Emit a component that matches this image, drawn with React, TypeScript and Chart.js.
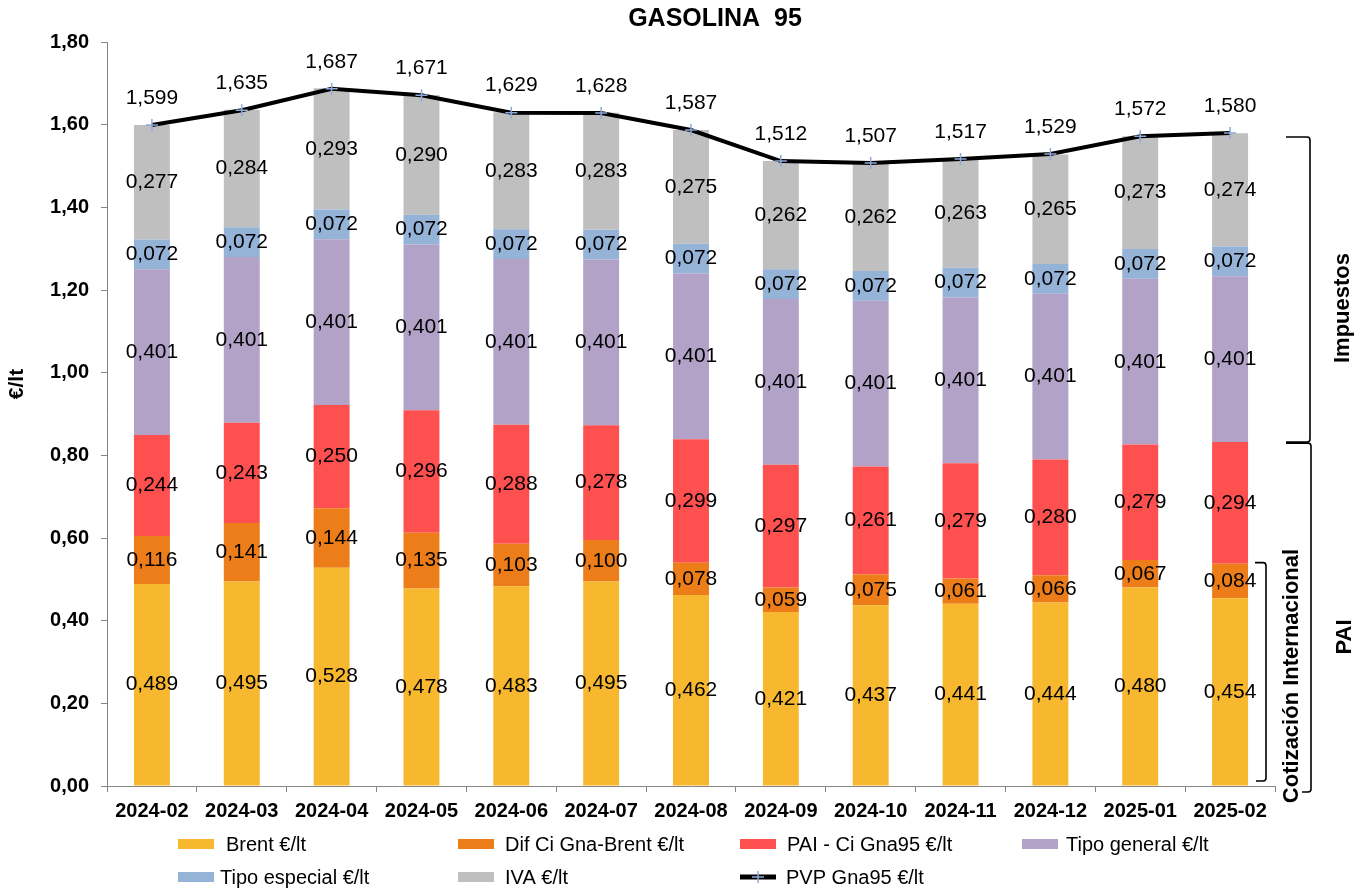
import React, { useEffect, useRef } from 'react';
import { Chart, registerables } from 'chart.js';

Chart.register(...registerables);

const FONT = '"Liberation Sans", Arial, Helvetica, sans-serif';

const categories = ['2024-02', '2024-03', '2024-04', '2024-05', '2024-06', '2024-07', '2024-08', '2024-09', '2024-10', '2024-11', '2024-12', '2025-01', '2025-02'];
const brent = [0.489, 0.495, 0.528, 0.478, 0.483, 0.495, 0.462, 0.421, 0.437, 0.441, 0.444, 0.480, 0.454];
const difCiBrent = [0.116, 0.141, 0.144, 0.135, 0.103, 0.100, 0.078, 0.059, 0.075, 0.061, 0.066, 0.067, 0.084];
const paiCi = [0.244, 0.243, 0.250, 0.296, 0.288, 0.278, 0.299, 0.297, 0.261, 0.279, 0.280, 0.279, 0.294];
const tipoGeneral = [0.401, 0.401, 0.401, 0.401, 0.401, 0.401, 0.401, 0.401, 0.401, 0.401, 0.401, 0.401, 0.401];
const tipoEspecial = [0.072, 0.072, 0.072, 0.072, 0.072, 0.072, 0.072, 0.072, 0.072, 0.072, 0.072, 0.072, 0.072];
const iva = [0.277, 0.284, 0.293, 0.290, 0.283, 0.283, 0.275, 0.262, 0.262, 0.263, 0.265, 0.273, 0.274];
const pvp = [1.599, 1.635, 1.687, 1.671, 1.629, 1.628, 1.587, 1.512, 1.507, 1.517, 1.529, 1.572, 1.580];

const yMin = 0;
const yMax = 1.8;
const yStep = 0.2;

const title = 'GASOLINA  95';
const yTitle = '€/lt';

const fmt = (v: number, d: number) => v.toFixed(d).replace('.', ',');

const valueLabels = {
  id: 'valueLabels',
  afterDatasetsDraw(chart: any) {
    const ctx = chart.ctx;
    ctx.save();
    ctx.font = `21px ${FONT}`;
    ctx.fillStyle = '#000';
    ctx.textAlign = 'center';
    ctx.textBaseline = 'middle';
    chart.data.datasets.forEach((ds: any, i: number) => {
      const meta = chart.getDatasetMeta(i);
      meta.data.forEach((el: any, j: number) => {
        const v = ds.data[j] as number;
        if (meta.type === 'bar') {
          const p = el.getProps(['x', 'y', 'base'], true);
          ctx.fillText(fmt(v, 3), p.x, (p.y + p.base) / 2);
        } else {
          ctx.fillText(fmt(v, 3), el.x, el.y - 27);
        }
      });
    });
    ctx.restore();
  },
};

const decorations = {
  id: 'decorations',
  afterDraw(chart: any) {
    const ctx = chart.ctx;
    const ys = chart.scales.y;
    ctx.save();
    // title
    ctx.fillStyle = '#000';
    ctx.textAlign = 'center';
    ctx.textBaseline = 'middle';
    ctx.font = `bold 25px ${FONT}`;
    ctx.fillText(title, 715, 19);
    // y title
    ctx.save();
    ctx.translate(17, 384);
    ctx.rotate(-Math.PI / 2);
    ctx.font = `bold 21px ${FONT}`;
    ctx.fillText(yTitle, 0, 0);
    ctx.restore();

    // braces from last bar
    const n = categories.length - 1;
    const topV = pvp[n];
    const midV = brent[n] + difCiBrent[n] + paiCi[n];
    const cotV = brent[n] + difCiBrent[n];
    const top = ys.getPixelForValue(topV) + 4;
    const mid = ys.getPixelForValue(midV);
    const cot = ys.getPixelForValue(cotV) - 1;
    const zero = ys.getPixelForValue(0);
    ctx.strokeStyle = '#000';
    ctx.lineWidth = 1.6;
    const r = 3;
    // Impuestos
    ctx.beginPath();
    ctx.moveTo(1286, top);
    ctx.lineTo(1310 - r, top);
    ctx.quadraticCurveTo(1310, top, 1310, top + r);
    ctx.lineTo(1310, mid - r);
    ctx.quadraticCurveTo(1310, mid, 1310 - r, mid);
    ctx.lineTo(1286, mid);
    ctx.stroke();
    // PAI
    ctx.beginPath();
    ctx.moveTo(1286, mid + 1);
    ctx.lineTo(1311 - r, mid + 1);
    ctx.quadraticCurveTo(1311, mid + 1, 1311, mid + 1 + r);
    ctx.lineTo(1311, zero + 6 - r);
    ctx.quadraticCurveTo(1311, zero + 6, 1311 - r, zero + 6);
    ctx.lineTo(1302, zero + 6);
    ctx.stroke();
    // Cotización
    ctx.beginPath();
    ctx.moveTo(1255, cot);
    ctx.lineTo(1266 - r, cot);
    ctx.quadraticCurveTo(1266, cot, 1266, cot + r);
    ctx.lineTo(1266, zero - 5 - r);
    ctx.quadraticCurveTo(1266, zero - 5, 1266 - r, zero - 5);
    ctx.lineTo(1256, zero - 5);
    ctx.stroke();

    const vtext = (t: string, x: number, y: number) => {
      ctx.save();
      ctx.translate(x, y);
      ctx.rotate(-Math.PI / 2);
      ctx.font = `bold 22px ${FONT}`;
      ctx.fillText(t, 0, 0);
      ctx.restore();
    };
    vtext('Impuestos', 1343, 308);
    vtext('PAI', 1345, 637);
    vtext('Cotización Internacional', 1292, 676);

    // legend
    const items = [
      { ds: 0, box: 178, text: 226, row: 844 },
      { ds: 1, box: 458, text: 505, row: 844 },
      { ds: 2, box: 740, text: 787, row: 844 },
      { ds: 3, box: 1022, text: 1066, row: 844 },
      { ds: 4, box: 178, text: 220, row: 877 },
      { ds: 5, box: 458, text: 505, row: 877 },
      { ds: 6, box: 740, text: 786, row: 877 },
    ];
    ctx.font = `20px ${FONT}`;
    ctx.textAlign = 'left';
    items.forEach((it) => {
      const ds = chart.data.datasets[it.ds];
      if (ds.type === 'line') {
        ctx.strokeStyle = ds.borderColor;
        ctx.lineWidth = 5;
        ctx.beginPath();
        ctx.moveTo(it.box, it.row);
        ctx.lineTo(it.box + 36, it.row);
        ctx.stroke();
        ctx.strokeStyle = ds.pointBorderColor;
        ctx.lineWidth = 1.5;
        ctx.beginPath();
        ctx.moveTo(it.box + 18 - 6, it.row);
        ctx.lineTo(it.box + 18 + 6, it.row);
        ctx.moveTo(it.box + 18, it.row - 6);
        ctx.lineTo(it.box + 18, it.row + 6);
        ctx.stroke();
      } else {
        ctx.fillStyle = ds.backgroundColor;
        ctx.fillRect(it.box, it.row - 5, 36, 10);
      }
      ctx.fillStyle = '#000';
      ctx.fillText(ds.label, it.text, it.row + 1);
    });
    ctx.restore();
  },
};

export default function App() {
  const ref = useRef<HTMLCanvasElement | null>(null);
  useEffect(() => {
    document.body.style.margin = '0';
    const canvas = ref.current;
    if (!canvas) return;
    const barCommon = { barPercentage: 0.4, categoryPercentage: 1, order: 1, borderWidth: 0 };
    const chart = new Chart(canvas, {
      type: 'bar',
      data: {
        labels: categories,
        datasets: [
          { type: 'bar', label: 'Brent €/lt', data: brent, backgroundColor: '#F7B72E', ...barCommon },
          { type: 'bar', label: 'Dif Ci Gna-Brent €/lt', data: difCiBrent, backgroundColor: '#ED7D18', ...barCommon },
          { type: 'bar', label: 'PAI - Ci Gna95 €/lt', data: paiCi, backgroundColor: '#FF5050', ...barCommon },
          { type: 'bar', label: 'Tipo general €/lt', data: tipoGeneral, backgroundColor: '#B2A2C7', ...barCommon },
          { type: 'bar', label: 'Tipo especial €/lt', data: tipoEspecial, backgroundColor: '#95B3D7', ...barCommon },
          { type: 'bar', label: 'IVA €/lt', data: iva, backgroundColor: '#BFBFBF', ...barCommon },
          {
            type: 'line',
            label: 'PVP Gna95 €/lt',
            data: pvp,
            stack: 'pvp',
            order: 0,
            borderColor: '#000000',
            borderWidth: 4,
            tension: 0,
            pointStyle: 'cross',
            pointRadius: 6,
            pointBorderColor: '#8EA9DB',
            pointBorderWidth: 1.5,
            pointBackgroundColor: 'rgba(0,0,0,0)',
          } as any,
        ],
      },
      options: {
        responsive: false,
        animation: false,
        devicePixelRatio: 1,
        font: { family: FONT },
        layout: { padding: { top: 42, right: 91, bottom: 0, left: 0 } },
        plugins: {
          legend: { display: false },
          tooltip: { enabled: false },
          title: { display: false },
        },
        scales: {
          x: {
            stacked: true,
            offset: true,
            grid: { display: true, drawOnChartArea: false, drawTicks: true, tickLength: 6, color: '#868686', offset: true },
            border: { display: true, color: '#868686', width: 1 },
            ticks: { color: '#000', font: { family: FONT, size: 20, weight: 'bold' }, padding: 7, maxRotation: 0, autoSkip: false },
            afterFit: (s: any) => { s.height = 104; },
          },
          y: {
            stacked: true,
            min: yMin,
            max: yMax,
            grid: { display: true, drawOnChartArea: false, drawTicks: true, tickLength: 6, color: '#868686' },
            border: { display: true, color: '#868686', width: 1 },
            ticks: {
              stepSize: yStep,
              color: '#000',
              padding: 12,
              font: { family: FONT, size: 20, weight: 'bold' },
              callback: (v: any) => fmt(Number(v), 2),
            },
            afterFit: (s: any) => { s.width = 107; },
          },
        },
      } as any,
      plugins: [valueLabels, decorations],
    });
    return () => chart.destroy();
  }, []);
  return (
    <canvas ref={ref} width={1366} height={890} style={{ display: 'block', width: '1366px', height: '890px' }} />
  );
}
